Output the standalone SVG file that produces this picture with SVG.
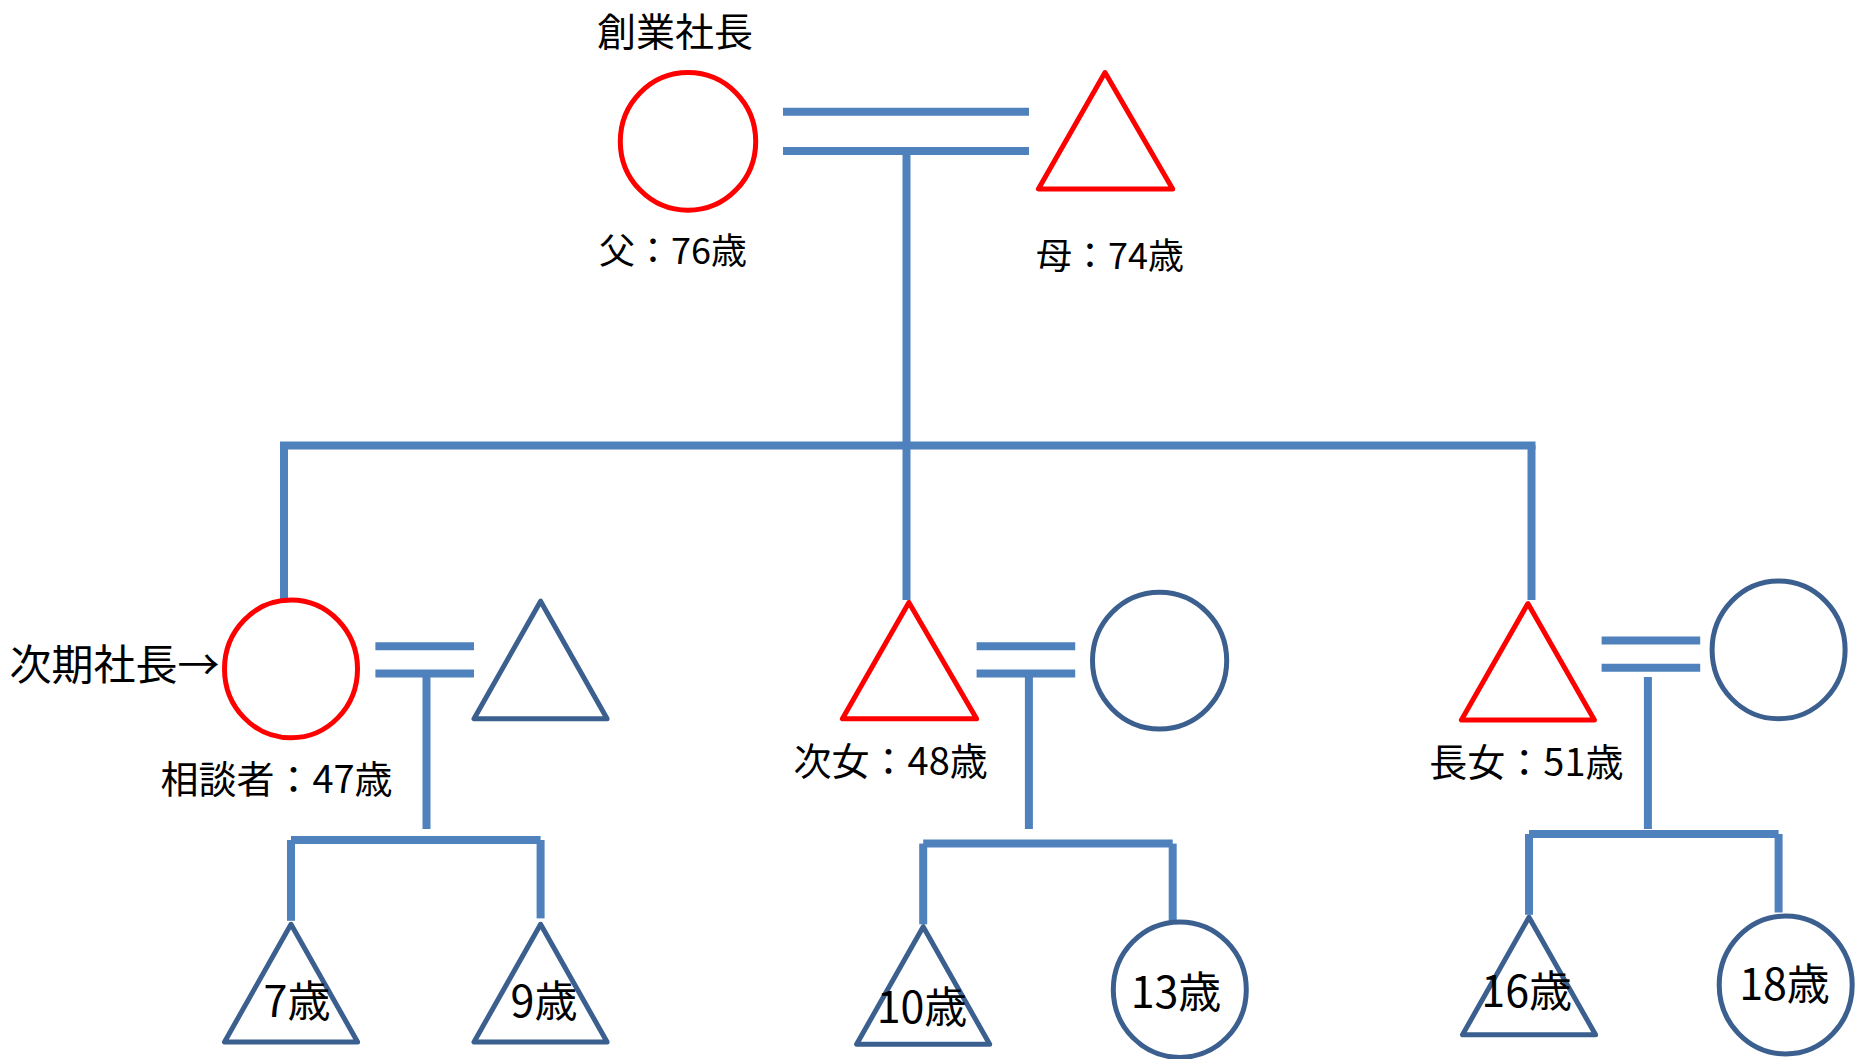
<svg xmlns="http://www.w3.org/2000/svg" width="1863" height="1059" viewBox="0 0 1863 1059">
<style>
.bg{fill:#ffffff}
.ln{stroke:#4f81bd;stroke-width:8;fill:none}
.red{stroke:#ff0000;stroke-width:5;fill:none;stroke-linejoin:round}
.blu{stroke:#3b5f8e;stroke-width:5;fill:none;stroke-linejoin:round}
.lbl{font-family:"Noto Sans CJK JP","Noto Sans CJK SC",sans-serif;font-size:38px;fill:#000}
.big{font-size:42px}
.par{font-size:36px}
.ttl{font-size:39px}
.age{font-family:"Noto Sans CJK JP","Noto Sans CJK SC",sans-serif;font-size:43px;fill:#000;text-anchor:middle}
</style>
<rect class="bg" x="0" y="0" width="1863" height="1059"/>
<g id="connectors">
<line class="ln" x1="783" y1="111.7" x2="1029" y2="111.7"/>
<line class="ln" x1="783" y1="150.9" x2="1029" y2="150.9"/>
<line class="ln" x1="906.5" y1="150.9" x2="906.5" y2="445.5"/>
<line class="ln" x1="280" y1="445.5" x2="1535.5" y2="445.5"/>
<line class="ln" x1="284" y1="445.5" x2="284" y2="600"/>
<line class="ln" x1="906.5" y1="445.5" x2="906.5" y2="600"/>
<line class="ln" x1="1531.5" y1="445.5" x2="1531.5" y2="600"/>
<line class="ln" x1="375.4" y1="646.3" x2="474" y2="646.3"/>
<line class="ln" x1="375.4" y1="673.6" x2="474" y2="673.6"/>
<line class="ln" x1="426.5" y1="673.6" x2="426.5" y2="829"/>
<line class="ln" x1="291" y1="840" x2="540.6" y2="840"/>
<line class="ln" x1="291" y1="840" x2="291" y2="920.8"/>
<line class="ln" x1="540.6" y1="840" x2="540.6" y2="918.4"/>
<line class="ln" x1="976.6" y1="646.3" x2="1075.2" y2="646.3"/>
<line class="ln" x1="976.6" y1="673.6" x2="1075.2" y2="673.6"/>
<line class="ln" x1="1028.9" y1="673.6" x2="1028.9" y2="829"/>
<line class="ln" x1="923.2" y1="843.6" x2="1172.7" y2="843.6"/>
<line class="ln" x1="923.2" y1="843.6" x2="923.2" y2="924.3"/>
<line class="ln" x1="1172.7" y1="843.6" x2="1172.7" y2="922"/>
<line class="ln" x1="1601.6" y1="640.4" x2="1700.2" y2="640.4"/>
<line class="ln" x1="1601.6" y1="667.7" x2="1700.2" y2="667.7"/>
<line class="ln" x1="1647.9" y1="677" x2="1647.9" y2="829"/>
<line class="ln" x1="1529" y1="834" x2="1778.6" y2="834"/>
<line class="ln" x1="1529" y1="834" x2="1529" y2="914.8"/>
<line class="ln" x1="1778.6" y1="834" x2="1778.6" y2="912.5"/>
</g>
<g id="title"><text class="lbl ttl" x="597" y="46">創業社長</text></g>
<g id="father">
<ellipse class="red" cx="688" cy="141.4" rx="67.7" ry="68.9"/>
<text class="lbl par" x="599" y="264">父：76歳</text>
</g>
<g id="mother">
<polygon class="red" points="1105,72.5 1038.4,188.9 1172.7,188.9"/>
<text class="lbl par" x="1036" y="268.5">母：74歳</text>
</g>
<g id="client">
<ellipse class="red" cx="291" cy="668.9" rx="66.5" ry="68.9"/>
<text class="lbl big" x="9.5" y="680">次期社長→</text>
<text class="lbl" x="160.4" y="792.5">相談者：47歳</text>
</g>
<g id="client-spouse"><polygon class="blu" points="540.6,601.2 474,718.8 607.1,718.8"/></g>
<g id="child-7">
<polygon class="blu" points="291,924.3 224.5,1042 357.6,1042"/>
<text class="age" x="297" y="1017">7歳</text>
</g>
<g id="child-9">
<polygon class="blu" points="540.6,924.3 474,1042 607.1,1042"/>
<text class="age" x="544" y="1017">9歳</text>
</g>
<g id="second-daughter">
<polygon class="red" points="908.9,602.4 842.4,718.8 976.6,718.8"/>
<text class="lbl" x="793.6" y="774.6">次女：48歳</text>
</g>
<g id="second-daughter-spouse"><ellipse class="blu" cx="1159.6" cy="660.6" rx="67.1" ry="68.3"/></g>
<g id="child-10">
<polygon class="blu" points="923.2,926.7 856.6,1044.3 989.7,1044.3"/>
<text class="age" x="922" y="1023">10歳</text>
</g>
<g id="child-13">
<ellipse class="blu" cx="1179.8" cy="989.7" rx="66.5" ry="67.7"/>
<text class="age" x="1176" y="1008">13歳</text>
</g>
<g id="eldest-daughter">
<polygon class="red" points="1527.9,603.6 1461.4,720 1594.4,720"/>
<text class="lbl" x="1429.3" y="775.8">長女：51歳</text>
</g>
<g id="eldest-daughter-spouse"><ellipse class="blu" cx="1778.6" cy="649.9" rx="66.5" ry="68.9"/></g>
<g id="child-16">
<polygon class="blu" points="1529,917.2 1462.5,1034.8 1595.6,1034.8"/>
<text class="age" x="1526.7" y="1007">16歳</text>
</g>
<g id="child-18">
<ellipse class="blu" cx="1785.7" cy="985" rx="66.5" ry="68.9"/>
<text class="age" x="1784.5" y="1000">18歳</text>
</g>
</svg>
